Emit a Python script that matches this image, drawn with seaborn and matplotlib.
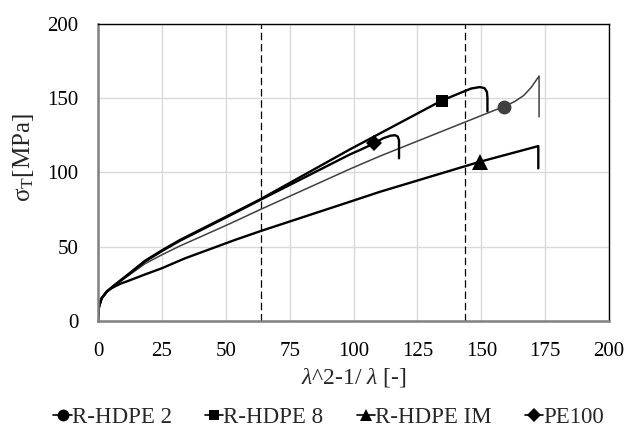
import matplotlib
matplotlib.use("Agg")
import matplotlib.pyplot as plt
from matplotlib.lines import Line2D
import seaborn as sns
import pandas as pd

# ---- data ----
hdpe2_x = [0, 0.1, 0.4, 1.4, 3.4, 5.0, 6.7, 11.9, 18.4, 25, 32.1, 40.0, 51.7, 63.7, 98.6, 110.4,
           158.7, 163.0, 166.5, 169.5, 172.6, 172.6]
hdpe2_y = [0, 3.0, 9.6, 15.2, 19.7, 22.0, 24.0, 30.5, 38.5, 44.5, 50.5, 56.5, 65.5, 75.1, 102.2, 110.9,
           144.1, 147.5, 151.5, 157.0, 164.7, 137.3]

hdpe8_x = [0, 0.1, 0.4, 1.4, 3.4, 5.0, 6.7, 11.9, 18.4, 25, 32.1, 41.9, 51.7, 63.7, 98.6, 134.5,
           142.0, 146.0, 149.5, 151.3, 152.2, 152.4, 152.4]
hdpe8_y = [0, 3.0, 9.6, 15.2, 19.7, 22.0, 24.5, 31.5, 40.5, 47.5, 54.5, 63.0, 71.5, 82.0, 115.4, 148.2,
           153.5, 156.3, 157.3, 156.5, 154.0, 150.0, 141.0]

hdpeim_x = [0, 0.1, 0.4, 1.4, 3.4, 5.0, 6.7, 9.0, 11.9, 18.4, 24.9, 34.0, 53.6, 63.7, 98.6, 110.4,
            149.5, 172.3, 172.3]
hdpeim_y = [0, 3.0, 9.6, 15.2, 19.6, 21.7, 23.3, 25.2, 27.0, 31.3, 35.4, 42.1, 54.5, 60.5, 80.2, 86.9,
            107.1, 117.6, 102.6]

pe100_x = [0, 0.1, 0.4, 1.4, 3.4, 5.0, 6.7, 11.9, 18.4, 25, 32.1, 41.9, 51.7, 63.7, 98.6, 103.2,
           108.0, 111.5, 114.5, 116.3, 117.3, 117.8, 117.8]
pe100_y = [0, 3.0, 9.6, 15.2, 19.7, 22.0, 24.3, 31.2, 40.0, 47.0, 54.0, 62.5, 71.0, 81.6, 112.0, 115.5,
           119.4, 122.8, 124.6, 124.9, 124.0, 121.5, 109.4]

series_names = ["R-HDPE 2", "R-HDPE 8", "R-HDPE IM", "PE100"]
marker_index = [16, 15, 16, 16]   # which data point carries the single marker

vlines_x = [63.7, 143.6]
x_ticks = [0, 25, 50, 75, 100, 125, 150, 175, 200]
y_ticks = [0, 50, 100, 150, 200]

# ---- styling ----
sns.set_theme(style="white")
plt.rcParams["font.family"] = ["Liberation Serif", "DejaVu Serif"]
plt.rcParams["mathtext.fontset"] = "custom"
plt.rcParams["mathtext.rm"] = "Liberation Serif"
plt.rcParams["mathtext.it"] = "Liberation Serif:italic"

fig = plt.figure(figsize=(6.26, 4.28), dpi=100)
ax = fig.add_axes([0.1565, 0.25, 0.8165, 0.695])

data = [(hdpe2_x, hdpe2_y), (hdpe8_x, hdpe8_y), (hdpeim_x, hdpeim_y), (pe100_x, pe100_y)]
colors = ["#404040", "black", "black", "black"]
widths = [1.1, 1.7, 1.7, 1.7]
markers = ["o", "s", "^", "D"]
msizes = [10, 8.5, 11, 8]

for (xs, ys), name, c, lw, mk, ms, mi in zip(data, series_names, colors, widths, markers, msizes, marker_index):
    df = pd.DataFrame({"x": xs, "y": ys})
    sns.lineplot(data=df, x="x", y="y", sort=False, estimator=None, ax=ax,
                 color=c, lw=lw, marker=mk, markersize=ms, markevery=[mi],
                 markeredgewidth=0, label=name, legend=False)

for vx in vlines_x:
    ax.axvline(vx, color="black", lw=0.9, ls=(0, (6, 3)), zorder=1)

ax.set_xlim(0, 200)
ax.set_ylim(0, 200)
ax.set_xticks(x_ticks)
ax.set_yticks(y_ticks)
ax.grid(True, color="#d9d9d9", lw=1)
ax.set_axisbelow(True)
ax.tick_params(axis="both", length=0, labelsize=15, colors="black")
ax.tick_params(axis="y", pad=14)
ax.tick_params(axis="x", pad=15)

for side in ["top", "right"]:
    ax.spines[side].set_color("black")
    ax.spines[side].set_linewidth(1.0)
for side in ["left", "bottom"]:
    ax.spines[side].set_color("#808080")
    ax.spines[side].set_linewidth(1.8)

ax.set_xlabel(r"$\mathit{\lambda}$^2-1/ $\mathit{\lambda}$ [-]", fontsize=17, labelpad=4)
ax.set_ylabel(r"σ$_{\mathrm{T}}$[MPa]", fontsize=18)
ax.yaxis.set_label_coords(-0.122, 0.551)

leg_handles = [Line2D([], [], color="black", lw=1.2, marker=m, markersize=s * 0.85, markeredgewidth=0)
               for m, s in zip(markers, msizes)]
fig.legend(leg_handles, series_names, loc="center", bbox_to_anchor=(0.525, 0.025), ncol=4,
           frameon=False, fontsize=16.5, handlelength=0.8, handletextpad=0.0, columnspacing=1.45)

fig.savefig("out.png", dpi=100)
